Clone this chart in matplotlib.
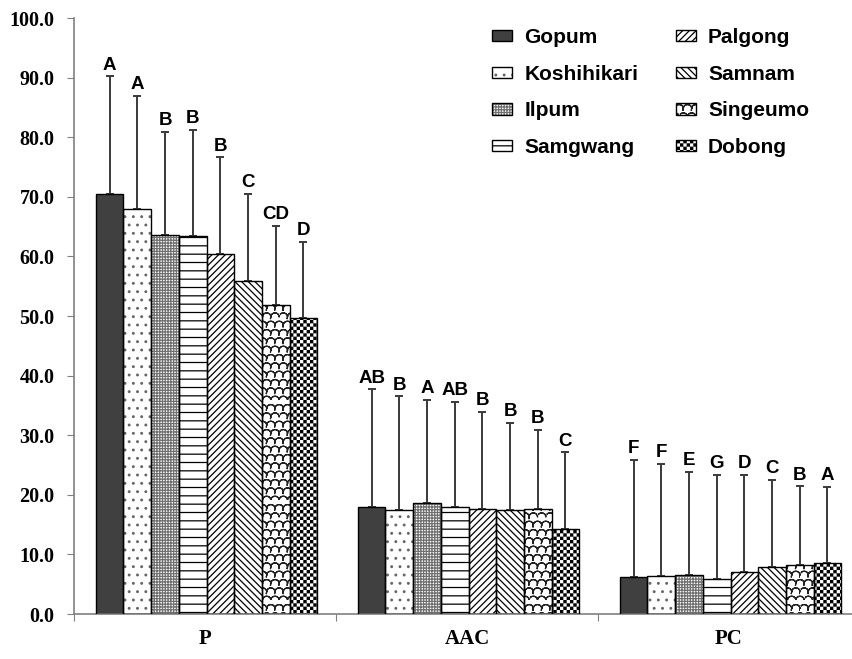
import warnings
import numpy as np
import matplotlib
matplotlib.use("Agg")
import matplotlib.pyplot as plt
from matplotlib import hatch as mhatch
from matplotlib.path import Path

warnings.filterwarnings("ignore")

categories = ["P", "AAC", "PC"]
cultivars = ["Gopum", "Koshihikari", "Ilpum", "Samgwang",
             "Palgong", "Samnam", "Singeumo", "Dobong"]

# mean values per cultivar, one entry per category (P, AAC, PC)
means = {
    "Gopum":       [70.4, 17.9, 6.2],
    "Koshihikari": [68.0, 17.4, 6.3],
    "Ilpum":       [63.6, 18.6, 6.6],
    "Samgwang":    [63.5, 18.0, 5.8],
    "Palgong":     [60.4, 17.6, 7.0],
    "Samnam":      [55.9, 17.4, 7.9],
    "Singeumo":    [51.8, 17.6, 8.2],
    "Dobong":      [49.7, 14.3, 8.5],
}
# upper error bar lengths
errs = {
    "Gopum":       [19.8, 19.8, 19.6],
    "Koshihikari": [18.9, 19.1, 18.9],
    "Ilpum":       [17.3, 17.3, 17.3],
    "Samgwang":    [17.7, 17.6, 17.5],
    "Palgong":     [16.2, 16.3, 16.4],
    "Samnam":      [14.6, 14.7, 14.6],
    "Singeumo":    [13.3, 13.3, 13.2],
    "Dobong":      [12.8, 12.8, 12.8],
}
letters = {
    "Gopum":       ["A", "AB", "F"],
    "Koshihikari": ["A", "B", "F"],
    "Ilpum":       ["B", "A", "E"],
    "Samgwang":    ["B", "AB", "G"],
    "Palgong":     ["B", "B", "D"],
    "Samnam":      ["C", "B", "C"],
    "Singeumo":    ["CD", "B", "B"],
    "Dobong":      ["D", "C", "A"],
}


# checkerboard hatch ('#')
class CheckerHatch(mhatch.HatchPatternBase):
    def __init__(self, hatch, density):
        self.n = hatch.count('#') * density * 5
        self.num_squares = sum(1 for i in range(self.n) for j in range(self.n)
                               if (i + j) % 2 == 0)
        self.num_vertices = self.num_squares * 5

    def set_vertices_and_codes(self, vertices, codes):
        s = 1.0 / self.n
        e = 0.006
        k = 0
        for i in range(self.n):
            for j in range(self.n):
                if (i + j) % 2 == 0:
                    x0, y0 = i * s + e, j * s + e
                    x1, y1 = (i + 1) * s - e, (j + 1) * s - e
                    vertices[k:k + 5] = [(x0, y0), (x1, y0), (x1, y1),
                                         (x0, y1), (x0, y0)]
                    codes[k] = Path.MOVETO
                    codes[k + 1:k + 4] = Path.LINETO
                    codes[k + 4] = Path.CLOSEPOLY
                    k += 5


# fish-scale / wave hatch ('~'); each arc goes out and back so it has no area
class ScaleHatch(mhatch.HatchPatternBase):
    seg = 10

    def __init__(self, hatch, density):
        self.n = hatch.count('~') * density * 2
        self.per = 2 * self.seg + 1
        self.num_vertices = self.n * (self.n + 2) * self.per

    def set_vertices_and_codes(self, vertices, codes):
        s = 1.0 / self.n
        r = s / 2
        t = np.linspace(0, np.pi, self.seg + 1)
        t = np.concatenate([t, t[-2::-1]])
        k = 0
        for row in range(self.n):
            y = row * s
            shift = r if row % 2 else 0.0
            for col in range(-1, self.n + 1):
                cx = col * s + shift
                vertices[k:k + self.per, 0] = cx + r * np.cos(t)
                vertices[k:k + self.per, 1] = y + 0.9 * r * np.sin(t)
                codes[k] = Path.MOVETO
                codes[k + 1:k + self.per] = Path.LINETO
                k += self.per


mhatch._hatch_types.extend([CheckerHatch, ScaleHatch])
plt.rcParams['hatch.linewidth'] = 0.9

fills = ["#404040", "white", "white", "white", "white", "white", "white", "white"]
hatches = [None, "..", "++++++", "--", "/////", "\\\\\\\\\\", "~", "#"]
hatch_colors = ["#404040", "#666666", "#707070", "black", "black", "black",
                "#222222", "black"]

serif = "Liberation Serif"
sans = "Liberation Sans"

fig = plt.figure(figsize=(8.52, 6.59), dpi=100)
ax = fig.add_axes([74 / 852, 45 / 659, 786 / 852, 596 / 659])

x = np.arange(len(categories))
w = 0.1057
handles = []
for i, name in enumerate(cultivars):
    pos = x + (i - 3.5) * w + 0.006
    h1 = ax.bar(pos, means[name], width=w, color=fills[i],
                edgecolor=hatch_colors[i], hatch=hatches[i], linewidth=0,
                zorder=2)
    h2 = ax.bar(pos, means[name], width=w, fill=False, edgecolor="black",
                linewidth=1.0, zorder=3)
    handles.append((h1.patches[0], h2.patches[0]))
    ax.errorbar(pos, means[name], yerr=[np.zeros(3), errs[name]], fmt="none",
                ecolor="#3a3a3a", elinewidth=1.4, capsize=3, capthick=1.4,
                zorder=1)
    for px, m, e, t in zip(pos, means[name], errs[name], letters[name]):
        ax.annotate(t, (px, m + e), xytext=(0, 2), textcoords="offset points",
                    ha="center", va="bottom", fontsize=13.5, fontweight="bold",
                    family=sans)

ax.set_ylim(0, 100)
ax.set_xlim(-0.5, 2.5)
ax.set_yticks(np.arange(0, 101, 10))
ax.set_yticklabels([f"{v:.1f}" for v in np.arange(0, 101, 10)],
                   fontsize=14.5, fontweight="bold", family=serif)
ax.set_xticks([-0.5, 0.5, 1.5, 2.5])
ax.set_xticklabels([])
ax.set_xticks(x, minor=True)
ax.set_xticklabels(categories, minor=True, fontsize=15, fontweight="bold",
                   family=serif)
ax.tick_params(axis="x", which="minor", length=0, pad=11)
ax.tick_params(axis="x", which="major", length=5, color="#808080")
ax.tick_params(axis="y", length=5, pad=9, color="#808080")
for side in ["top", "right"]:
    ax.spines[side].set_visible(False)
for side in ["left", "bottom"]:
    ax.spines[side].set_color("#808080")
    ax.spines[side].set_linewidth(1.2)

ax.legend(handles, cultivars, loc="upper left",
          bbox_to_anchor=(492 / 852, 1 - 28 / 659),
          bbox_transform=fig.transFigure, ncol=2, frameon=False,
          prop={"family": sans, "weight": "bold", "size": 15},
          handlelength=0.95, handleheight=0.45, handletextpad=0.6,
          labelspacing=0.85, columnspacing=1.8, borderpad=0,
          borderaxespad=0)

fig.savefig("out.png", dpi=100)
